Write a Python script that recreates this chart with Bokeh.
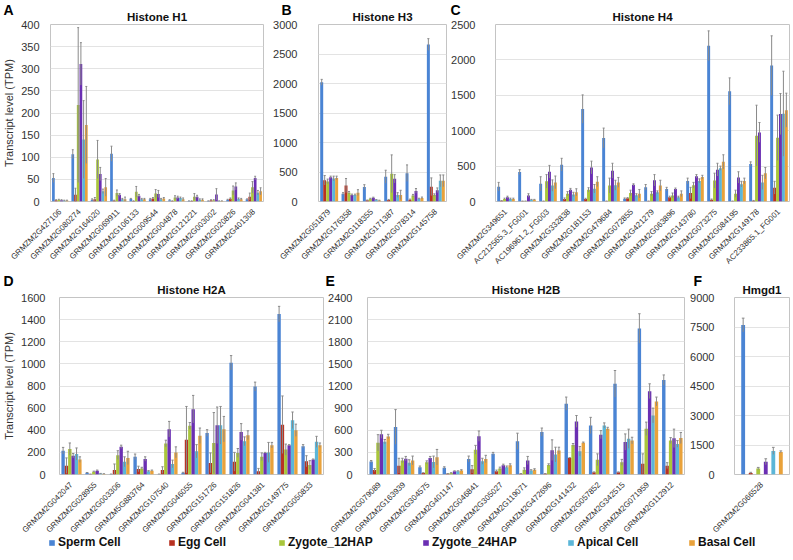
import math
from bokeh.plotting import figure
from bokeh.models import (ColumnDataSource, FactorRange, Range1d, SingleIntervalTicker,
                          Label, Legend, LegendItem)
from bokeh.layouts import column, row
from bokeh.transform import dodge
from bokeh.embed import file_html
from bokeh.resources import INLINE

SERIES = ["Sperm Cell", "Egg Cell", "Zygote_12HAP", "Zygote_24HAP", "Apical Cell", "Basal Cell"]
COLORS = ["#4a84d4", "#b83222", "#a9c63b", "#6b2fb3", "#5bb6d8", "#e9a23b"]

# ---- Panel A: Histone H1
h1_genes = ["GRMZM2G427106", "GRMZM2G080274", "GRMZM2G164020", "GRMZM2G069911", "GRMZM2G106133",
            "GRMZM2G009544", "GRMZM2G004878", "GRMZM2G121221", "GRMZM2G003002", "GRMZM2G020826",
            "GRMZM2G401308"]
h1_vals = [
    [53, 107, 4, 108, 6, 5, 3, 1, 1, 4, 5],
    [3, 15, 5, 2, 1, 7, 1, 1, 3, 6, 11],
    [4, 218, 95, 19, 22, 18, 9, 11, 3, 25, 32],
    [3, 311, 62, 15, 13, 17, 9, 11, 16, 34, 53],
    [2, 140, 23, 5, 5, 5, 8, 4, 1, 6, 20],
    [2, 173, 32, 5, 5, 7, 5, 4, 1, 5, 23],
]
h1_errs = [
    [10, 10, 2, 17, 1, 2, 1, 0.5, 0.5, 1, 1],
    [1, 15, 4, 1, 0.5, 2, 0.5, 0.5, 1, 2, 8],
    [1, 175, 43, 7, 12, 9, 4, 7, 1, 10, 13],
    [1, 48, 15, 3, 3, 8, 3, 3, 13, 8, 4],
    [1, 88, 5, 2, 2, 2, 2, 2, 0.5, 2, 5],
    [1, 87, 20, 5, 2, 2, 3, 2, 0.5, 2, 8],
]

# ---- Panel B: Histone H3
h3_genes = ["GRMZM2G051879", "GRMZM2G176358", "GRMZM2G118355", "GRMZM2G171387", "GRMZM2G078314",
            "GRMZM2G145758"]
h3_vals = [
    [2020, 130, 245, 420, 480, 2660],
    [360, 270, 20, 25, 30, 250],
    [340, 150, 45, 470, 100, 110],
    [410, 110, 63, 385, 180, 190],
    [390, 110, 28, 110, 45, 350],
    [400, 150, 17, 110, 60, 350],
]
h3_errs = [
    [50, 20, 40, 110, 140, 100],
    [80, 120, 5, 10, 10, 150],
    [40, 20, 10, 320, 20, 20],
    [20, 15, 10, 70, 40, 40],
    [40, 15, 5, 40, 10, 100],
    [30, 50, 5, 80, 15, 100],
]

# ---- Panel C: Histone H4
h4_genes = ["GRMZM2G349651", "AC212565.3_FG001", "AC196961.2_FG003", "GRMZM2G332838", "GRMZM2G181153",
            "GRMZM2G479684", "GRMZM2G072855", "GRMZM2G421279", "GRMZM2G063896", "GRMZM2G143780",
            "GRMZM2G073275", "GRMZM2G084195", "GRMZM2G149178", "AC233865.1_FG001"]
h4_vals = [
    [210, 415, 250, 520, 1306, 897, 40, 200, 175, 290, 2200, 1556, 530, 1920],
    [10, 5, 5, 35, 35, 5, 45, 5, 60, 120, 25, 5, 10, 195],
    [37, 5, 285, 110, 165, 225, 120, 110, 85, 230, 295, 110, 930, 900],
    [60, 85, 420, 165, 480, 435, 235, 300, 175, 355, 450, 340, 976, 1235],
    [37, 25, 225, 100, 180, 230, 90, 130, 60, 290, 470, 245, 270, 1240],
    [37, 25, 270, 130, 280, 270, 110, 225, 110, 345, 560, 290, 400, 1290],
]
h4_errs = [
    [60, 35, 100, 90, 200, 140, 10, 40, 25, 40, 210, 190, 30, 420],
    [3, 2, 2, 15, 10, 2, 10, 2, 15, 80, 10, 2, 5, 90],
    [10, 2, 95, 30, 30, 105, 40, 30, 35, 40, 105, 50, 430, 320],
    [15, 25, 90, 20, 90, 105, 15, 80, 15, 25, 90, 80, 140, 290],
    [10, 5, 80, 30, 60, 70, 20, 20, 15, 30, 30, 40, 100, 600],
    [10, 5, 90, 50, 70, 70, 60, 75, 40, 25, 100, 40, 80, 240],
]

# ---- Panel D: Histone H2A
h2a_genes = ["GRMZM2G042047", "GRMZM2G028955", "GRMZM2G003306", "GRMZM5G883764", "GRMZM2G107540",
             "GRMZM2G046055", "GRMZM2G151726", "GRMZM2G151826", "GRMZM2G041381", "GRMZM2G149775",
             "GRMZM2G050833"]
h2a_vals = [
    [215, 15, 3, 160, 3, 15, 375, 1010, 795, 1450, 255],
    [80, 3, 40, 50, 40, 315, 105, 115, 30, 450, 120],
    [230, 25, 175, 55, 280, 440, 285, 195, 160, 225, 85],
    [170, 35, 250, 140, 410, 590, 445, 385, 195, 265, 135],
    [185, 8, 115, 30, 95, 210, 445, 300, 200, 490, 295],
    [135, 5, 150, 35, 200, 350, 410, 355, 265, 400, 265],
]
h2a_errs = [
    [30, 3, 1, 25, 1, 5, 30, 65, 40, 70, 15],
    [70, 1, 55, 25, 30, 300, 90, 85, 25, 260, 50],
    [55, 5, 40, 10, 30, 30, 275, 40, 35, 50, 40],
    [20, 5, 15, 20, 70, 125, 165, 75, 5, 5, 5],
    [55, 2, 45, 5, 35, 60, 170, 40, 90, 75, 50],
    [25, 2, 60, 5, 50, 70, 115, 40, 25, 55, 20],
]

# ---- Panel E: Histone H2B
h2b_genes = ["GRMZM2G079089", "GRMZM2G163939", "GRMZM2G304575", "GRMZM2G401147", "GRMZM2G046841",
             "GRMZM2G305027", "GRMZM2G119071", "GRMZM2G472696", "GRMZM2G141432", "GRMZM2G057852",
             "GRMZM2G342515", "GRMZM2G071959", "GRMZM2G112912"]
h2b_vals = [
    [175, 645, 100, 90, 210, 280, 450, 575, 960, 665, 1230, 1980, 1280],
    [60, 120, 20, 10, 70, 45, 10, 10, 225, 30, 30, 145, 120],
    [430, 190, 165, 20, 335, 80, 65, 130, 400, 200, 165, 620, 460],
    [545, 215, 225, 45, 520, 125, 190, 330, 720, 540, 440, 1130, 490],
    [445, 160, 170, 45, 180, 100, 55, 270, 315, 665, 485, 800, 415],
    [515, 190, 235, 55, 210, 125, 63, 325, 430, 620, 460, 990, 495],
]
h2b_errs = [
    [15, 235, 15, 15, 40, 20, 110, 55, 90, 110, 180, 200, 70],
    [20, 100, 5, 3, 50, 15, 3, 3, 5, 5, 5, 135, 40],
    [110, 30, 20, 5, 60, 20, 25, 15, 20, 80, 40, 90, 40],
    [55, 30, 20, 5, 70, 15, 55, 140, 80, 55, 110, 100, 125],
    [30, 40, 80, 5, 40, 15, 10, 100, 65, 35, 130, 100, 45],
    [30, 60, 105, 10, 50, 20, 15, 45, 10, 20, 45, 60, 75],
]

# ---- Panel F: Hmgd1
hmg_genes = ["GRMZM2G066528"]
hmg_vals = [[7600], [80], [300], [650], [1200], [1150]]
hmg_errs = [[350], [30], [60], [150], [180], [50]]

PANEL_LETTERS = ["A", "B", "C", "D", "E", "F"]

FONT = "Liberation Sans"
ERR_COLOR = "#8a8a8a"


def panel(genes, vals, errs, ymax, interval, title, width, height,
          mbl, mbr, mbt, mbb, standoff, step_w=0.14, bar_w=0.14, ylabel=None):
    p = figure(x_range=FactorRange(*genes), y_range=Range1d(0, ymax), width=width, height=height,
               output_backend="svg", toolbar_location=None,
               min_border_left=mbl, min_border_right=mbr, min_border_top=mbt, min_border_bottom=mbb)
    p.title.text = title
    p.title.align = "center"
    p.title.text_font = FONT
    p.title.text_font_size = "11.5px"
    p.title.text_font_style = "bold"
    p.title.text_color = "#111111"
    p.title.standoff = 3
    p.title.offset = 0

    srcs = []
    for j in range(6):
        lo = [max(0, v - e) for v, e in zip(vals[j], errs[j])]
        hi = [v + e for v, e in zip(vals[j], errs[j])]
        src = ColumnDataSource(dict(gene=genes, v=vals[j], lo=lo, hi=hi))
        srcs.append(src)
        off = (j - 2.5) * step_w
        p.vbar(x=dodge("gene", off, range=p.x_range), top="v", width=bar_w, source=src,
               fill_color=COLORS[j], line_color=None)
    cap = bar_w * 0.35
    for j in range(6):
        off = (j - 2.5) * step_w
        src = srcs[j]
        p.segment(x0=dodge("gene", off, range=p.x_range), x1=dodge("gene", off, range=p.x_range),
                  y0="lo", y1="hi", source=src, line_color=ERR_COLOR, line_width=1)
        p.segment(x0=dodge("gene", off - cap, range=p.x_range), x1=dodge("gene", off + cap, range=p.x_range),
                  y0="hi", y1="hi", source=src, line_color=ERR_COLOR, line_width=1)

    p.yaxis.ticker = SingleIntervalTicker(interval=interval)
    p.xgrid.grid_line_color = None
    p.ygrid.grid_line_color = "#e3e3e3"
    p.outline_line_color = "#c4c4c4"
    for ax in (p.xaxis, p.yaxis):
        ax.axis_line_color = None
        ax.major_tick_line_color = None
        ax.minor_tick_line_color = None
        ax.major_label_text_font = FONT
        ax.major_label_text_color = "#333333"
    p.yaxis.major_label_text_font_size = "11px"
    p.yaxis.major_label_standoff = standoff
    p.xaxis.major_label_text_font_size = "8px"
    p.xaxis.major_label_orientation = math.pi / 4
    p.xaxis.major_label_standoff = 3
    if ylabel:
        p.yaxis.axis_label = ylabel
        p.yaxis.axis_label_text_font = FONT
        p.yaxis.axis_label_text_font_size = "11px"
        p.yaxis.axis_label_text_font_style = "normal"
        p.yaxis.axis_label_text_color = "#333333"
        p.yaxis.axis_label_standoff = 3
    return p


TOP_T, TOP_B = 24, 76
BOT_T, BOT_B = 20, 72
FRAME_H = 177
TOP_H = TOP_T + FRAME_H + TOP_B
BOT_H = BOT_T + FRAME_H + BOT_B
PAGE_W, PAGE_H = 793, 560

pA = panel(h1_genes, h1_vals, h1_errs, 400, 50, "Histone H1", 265, TOP_H,
           43, 2, TOP_T, TOP_B, 5, ylabel="Transcript level (TPM)")
pB = panel(h3_genes, h3_vals, h3_errs, 3000, 500, "Histone H3", 183, TOP_H,
           53, 2, TOP_T, TOP_B, 15)
pC = panel(h4_genes, h4_vals, h4_errs, 2500, 500, "Histone H4", 345, TOP_H,
           44, 4, TOP_T, TOP_B, 14)

pD = panel(h2a_genes, h2a_vals, h2a_errs, 1600, 200, "Histone H2A", 325, BOT_H,
           51, 2, BOT_T, BOT_B, 8, ylabel="Transcript level (TPM)")
pE = panel(h2b_genes, h2b_vals, h2b_errs, 2400, 300, "Histone H2B", 362, BOT_H,
           42, 3, BOT_T, BOT_B, 9)
pF = panel(hmg_genes, hmg_vals, hmg_errs, 9000, 1500, "Hmgd1", 106, BOT_H,
           45, 4, BOT_T, BOT_B, 14, step_w=0.137, bar_w=0.07)

# ---- Transparent overlay for panel letters and the shared legend
pO = figure(width=PAGE_W, height=PAGE_H, output_backend="svg", toolbar_location=None,
            x_range=Range1d(0, 1), y_range=Range1d(0, 1),
            min_border_left=0, min_border_right=0, min_border_top=0, min_border_bottom=0,
            x_axis_location=None, y_axis_location=None,
            margin=(-(TOP_H + BOT_H), 0, 0, 0))
pO.grid.visible = False
pO.outline_line_color = None
pO.background_fill_alpha = 0
pO.border_fill_alpha = 0

LETTER_POS = [(3, 1.5), (281, 1.5), (450, 1.0), (3, 272.5), (325, 272.5), (693, 272.5)]
for letter, (lx, ly) in zip(PANEL_LETTERS, LETTER_POS):
    pO.add_layout(Label(x=lx, y=PAGE_H - ly, x_units="screen", y_units="screen", text=letter,
                        text_font=FONT, text_font_size="14px", text_font_style="bold",
                        text_align="left", text_baseline="top", text_color="#000000"))

LEG_X = [48, 168, 278, 422, 567, 688]
for name, c, lx in zip(SERIES, COLORS, LEG_X):
    r = pO.vbar(x=[5], top=[5], bottom=[4], width=0.1, fill_color=c, line_color=None)
    leg = Legend(items=[LegendItem(label=name, renderers=[r])], location=(lx, 11),
                 glyph_width=7, glyph_height=7, label_standoff=3, label_height=12,
                 label_text_font=FONT, label_text_font_size="12px", label_text_font_style="bold",
                 label_text_color="#111111", padding=0, margin=0,
                 border_line_alpha=0, background_fill_alpha=0)
    pO.add_layout(leg, "center")

layout = column(row(pA, pB, pC), row(pD, pE, pF), pO)

open("out.html", "w").write(file_html(layout, INLINE))
